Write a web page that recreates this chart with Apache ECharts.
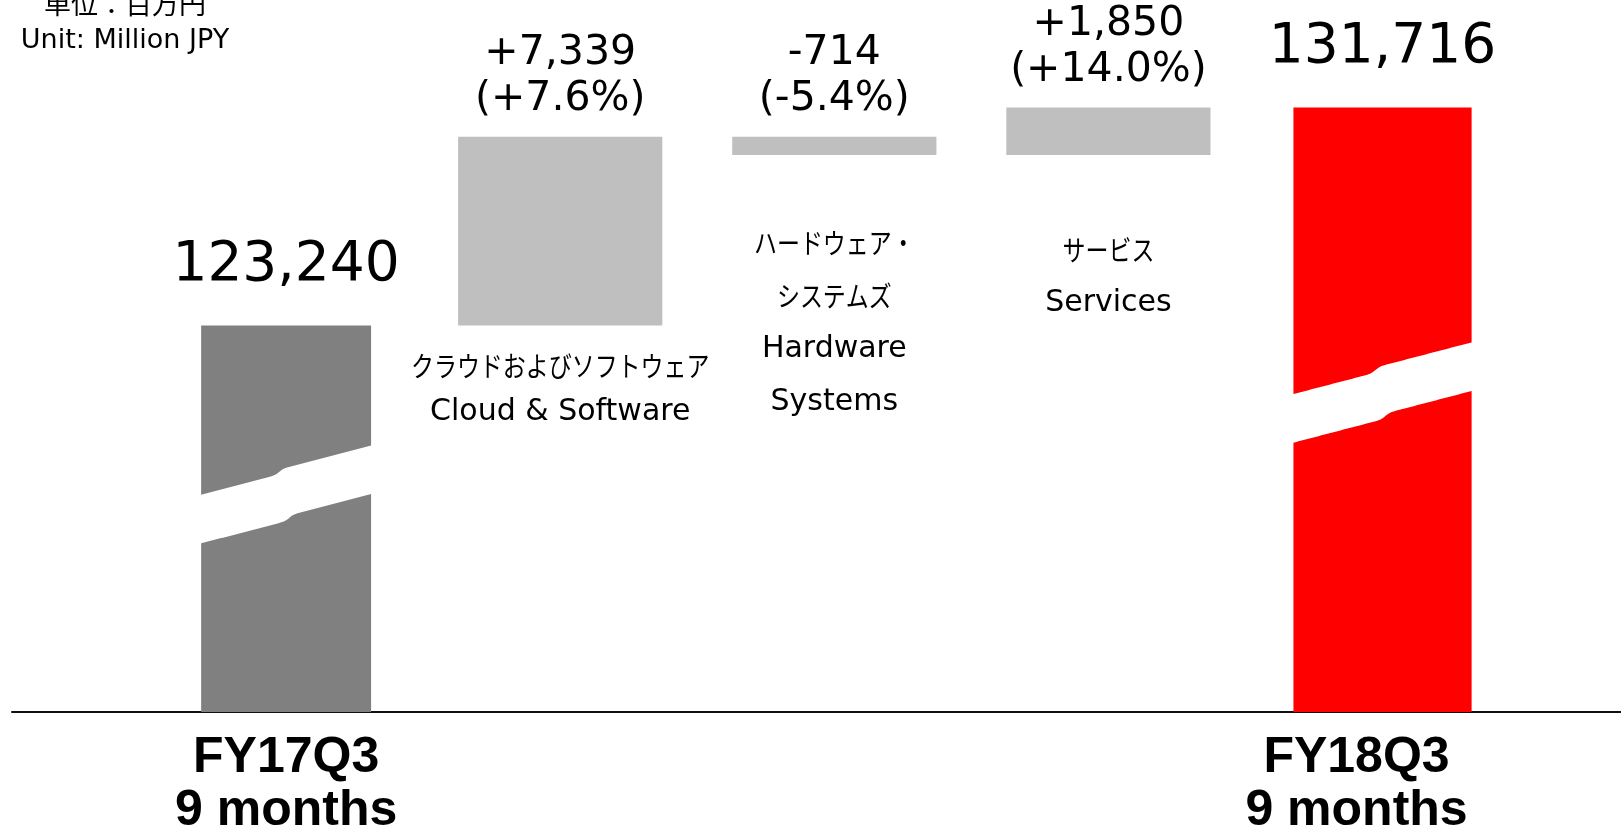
<!DOCTYPE html>
<html>
<head>
<meta charset="utf-8">
<title>Revenue bridge FY17Q3 - FY18Q3</title>
<script src="https://cdn.jsdelivr.net/npm/echarts@6/dist/echarts.min.js"></script>
<style>
  html, body { margin: 0; padding: 0; background: #fff; }
  #main { width: 1621px; height: 834px; }
</style>
</head>
<body>
<div id="main"></div>
<script>
// data
var periods = ['FY17Q3', 'FY18Q3'];
var periodNote = '9 months';
var segmentsJa = ['クラウドおよびソフトウェア', 'ハードウェア・\nシステムズ', 'サービス'];
var segmentsEn = ['Cloud & Software', 'Hardware\nSystems', 'Services'];
var startTotal = 123240;
var changes = [7339, -714, 1850];
var changePct = ['+7.6%', '-5.4%', '+14.0%'];
var endTotal = 131716;

// look
var Y_MIN = 108200, Y_MAX = 135900;
var barShare = [0.62, 0.745, 0.745, 0.745, 0.65];
var breakAt = { 0: 0.438, 4: 0.474 };     // where the white cut sits on the total bars
var nameGap = [0, 41, 88, 95, 0];         // first name line, below bar bottom
var nameStep = [0, 46, 53, 53, 0];
var periodDx = [0, 0, 0, 0, -26];
var latin = '"DejaVu Sans", Verdana, sans-serif';
var cjk = '"Noto Sans CJK JP", sans-serif';

function fmt(v) { return v.toLocaleString('en-US'); }

// build the bridge
var items = [];
items.push({ kind: 'total', lo: Y_MIN, hi: startTotal, color: '#808080', period: periods[0] });
var run = startTotal;
changes.forEach(function (c, k) {
    var next = run + c;
    items.push({ kind: 'delta', lo: Math.min(run, next), hi: Math.max(run, next), color: '#bfbfbf',
        value: c, pct: changePct[k], ja: segmentsJa[k], en: segmentsEn[k] });
    run = next;
});
items.push({ kind: 'total', lo: Y_MIN, hi: endTotal, color: '#ff0000', period: periods[1] });

var seriesData = items.map(function (it, i) {
    return it.kind === 'total' ? [i, it.lo, it.hi, it.hi] : [i, it.lo, it.hi, it.value];
});

// wavy cut, u from 0..1 across the bar
function edge(u) {
    return -(0.9 * u + 0.1 / (1 + Math.exp(-(u - 0.46) / 0.012)));
}

function renderItem(params, api) {
    var idx = params.dataIndex;
    var it = items[idx];
    var pHi = api.coord([api.value(0), api.value(2)]);
    var pLo = api.coord([api.value(0), api.value(1)]);
    var unit = api.size([1, 0])[0];
    var w = unit * barShare[idx];
    var cx = pHi[0];
    var x0 = cx - w / 2;
    var top = pHi[1], bottom = pLo[1];
    var kids = [{
        type: 'rect',
        shape: { x: x0, y: top, width: w, height: bottom - top },
        style: { fill: it.color }
    }];

    if (it.kind === 'total') {
        // break band
        var yb = top + (bottom - top) * breakAt[idx];
        var R = 0.29 * w, T = 46, du = 10 / w;
        var up = [], low = [];
        for (var k = 0; k <= 90; k++) {
            var u = -1 / w + k / 90 * (1 + 2 / w);
            up.push([x0 + u * w, yb + edge(u) * R]);
            low.push([x0 + u * w, yb + T + edge(u - du) * R]);
        }
        kids.push({ type: 'polygon', shape: { points: up.concat(low.reverse()) }, style: { fill: '#fff' } });

        kids.push({
            type: 'text', x: cx, y: top - 60,
            style: { text: fmt(it.hi), font: '55px ' + latin, fill: '#000', align: 'center', verticalAlign: 'middle' }
        });
        kids.push({
            type: 'text', x: cx + periodDx[idx], y: bottom + 20,
            style: {
                text: it.period + '\n' + periodNote, fill: '#000', align: 'center', verticalAlign: 'top',
                font: 'bold 50px "Liberation Sans", Arial, sans-serif', lineHeight: 53
            }
        });
    } else {
        var sign = it.value > 0 ? '+' : '-';
        kids.push({
            type: 'text', x: cx, y: top - 14,
            style: {
                text: sign + fmt(Math.abs(it.value)) + '\n(' + it.pct + ')', fill: '#000',
                font: '41px ' + latin, lineHeight: 46, align: 'center', verticalAlign: 'bottom'
            }
        });
        var y = bottom + nameGap[idx];
        it.ja.split('\n').forEach(function (s) {
            kids.push({
                type: 'text', x: cx, y: y, scaleX: 0.82,
                style: { text: s, font: '28px ' + cjk, fill: '#000', align: 'center', verticalAlign: 'middle' }
            });
            y += nameStep[idx];
        });
        it.en.split('\n').forEach(function (s) {
            kids.push({
                type: 'text', x: cx, y: y,
                style: { text: s, font: '30px ' + latin, fill: '#000', align: 'center', verticalAlign: 'middle' }
            });
            y += nameStep[idx];
        });
    }
    return { type: 'group', children: kids };
}

var myChart = echarts.init(document.getElementById('main'), null, { renderer: 'canvas' });
var option = {
    animation: false,
    backgroundColor: '#fff',
    grid: { left: 12, right: 0, top: 0, bottom: 122 },
    xAxis: {
        type: 'value', min: -1, max: 4.87,
        axisLine: { show: true, lineStyle: { color: '#111', width: 2 } },
        axisTick: { show: false }, axisLabel: { show: false }, splitLine: { show: false }
    },
    yAxis: {
        type: 'value', min: Y_MIN, max: Y_MAX, show: false,
        splitLine: { show: false }
    },
    graphic: [
        { type: 'text', x: 125, y: 4, style: { text: '単位：百万円', font: '27px ' + cjk, fill: '#000', align: 'center', verticalAlign: 'middle' } },
        { type: 'text', x: 125, y: 41, style: { text: 'Unit: Million JPY', font: '27px ' + latin, fill: '#000', align: 'center', verticalAlign: 'middle' } }
    ],
    series: [{
        type: 'custom',
        renderItem: renderItem,
        encode: { x: 0, y: [1, 2] },
        data: seriesData
    }]
};
myChart.setOption(option);
</script>
</body>
</html>
